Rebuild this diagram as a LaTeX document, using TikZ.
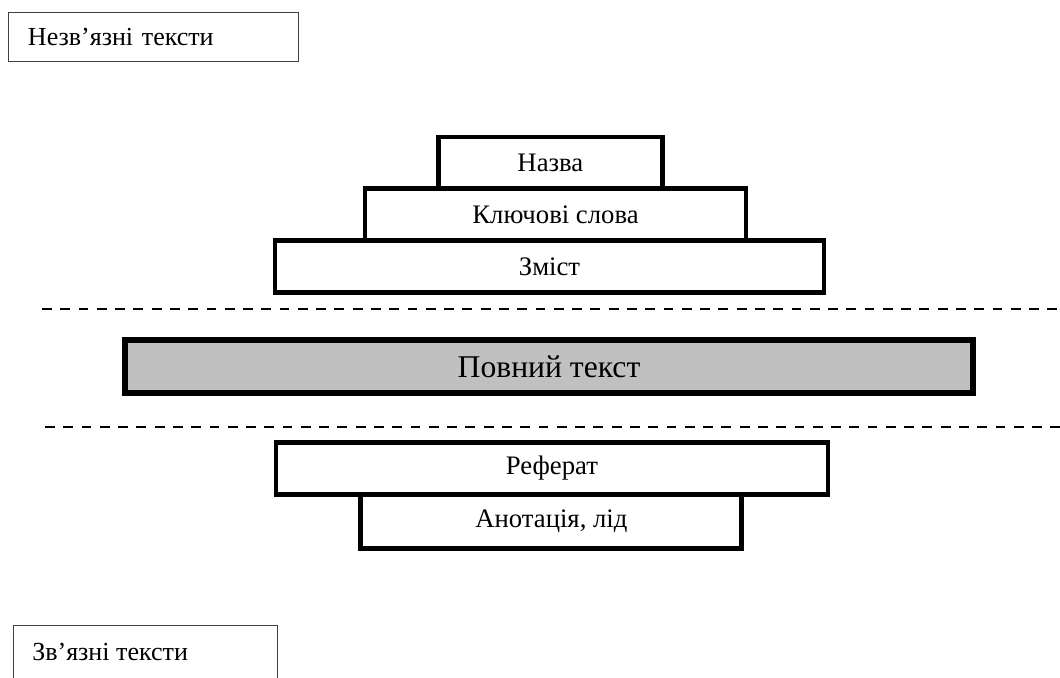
\documentclass[tikz,border=0pt]{standalone}
\usepackage{fontspec}
\setmainfont{Liberation Serif}
\usepackage{tikz}
\usetikzlibrary{positioning}
\definecolor{fullgrey}{HTML}{C0C0C0}
\definecolor{framegrey}{HTML}{404040}

\begin{document}
\begin{tikzpicture}[
    x=0.025cm, y=-0.025cm,
    lvl/.style={draw, line width=3.5pt, inner sep=0pt, font=\fontsize{19}{22}\selectfont},
    fullbox/.style={draw, line width=4.3pt, fill=fullgrey, inner sep=0pt, font=\fontsize{22.5}{26}\selectfont},
    lbl/.style={draw=framegrey, line width=0.6pt, inner xsep=0.5cm, inner ysep=0pt, text width=6.25cm, align=left, font=\fontsize{18.5}{22}\selectfont},
    lbltext/.style={inner sep=0pt, font=\fontsize{18.5}{22}\selectfont},
    cutline/.style={line width=1.8pt, dash pattern=on 7pt off 6pt},
]
\useasboundingbox (0,0) rectangle (1060,678);

% === CORNER LABELS ===
\node[lbl, minimum height=49.7*0.025cm] (unlinked) at (153,36.85) {Незв’язні тексти};
\node[lbltext, anchor=base west] (linked) at (32,660) {Зв’язні тексти};
\draw[framegrey, line width=0.6pt] (13,678) |- (277,625) -- (277,678);

% === PYRAMID (upper and lower parts) ===
\foreach \nm/\cx/\cy/\w/\h/\txt in {
    title/550.4/162.75/224.7/51.5/Назва,
    keys/555.5/214.5/381/52/Ключові слова,
    contents/549.5/266.6/549/52.2/Зміст,
    abstract/552/468.5/552/52/Реферат,
    annot/551.4/521.5/381/54/{Анотація, лід}%
}{
    \node[lvl, minimum width=\w*0.025cm, minimum height=\h*0.025cm] (\nm) at (\cx,\cy) {\txt};
}

% === FULL TEXT ===
\node[fullbox, minimum width=848*0.025cm, minimum height=53*0.025cm] (full) at (549,366.5) {Повний текст};

% === DASHED SEPARATORS ===
\draw[cutline] (42,309) -- (1060,309);
\draw[cutline] (45,427) -- (1060,427);

\end{tikzpicture}
\end{document}
